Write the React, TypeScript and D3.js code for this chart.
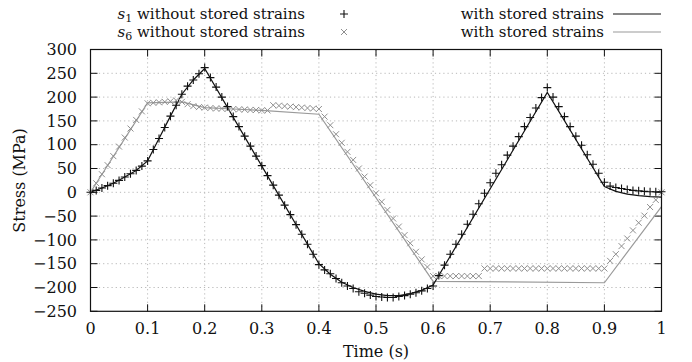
import React from "react";
import * as d3 from "d3";

const W = 692;
const H = 362;

// sample times of the markers (s)
const markerTimes = [
  0.0, 0.01, 0.02, 0.03, 0.04, 0.05, 0.06, 0.07, 0.08, 0.09,
  0.1, 0.11, 0.12, 0.13, 0.14, 0.15, 0.16, 0.17, 0.18, 0.19,
  0.2, 0.21, 0.22, 0.23, 0.24, 0.25, 0.26, 0.27, 0.28, 0.29,
  0.3, 0.31, 0.32, 0.33, 0.34, 0.35, 0.36, 0.37, 0.38, 0.39,
  0.4, 0.41, 0.42, 0.43, 0.44, 0.45, 0.46, 0.47, 0.48, 0.49,
  0.5, 0.51, 0.52, 0.53, 0.54, 0.55, 0.56, 0.57, 0.58, 0.59,
  0.6, 0.61, 0.62, 0.63, 0.64, 0.65, 0.66, 0.67, 0.68, 0.69,
  0.7, 0.71, 0.72, 0.73, 0.74, 0.75, 0.76, 0.77, 0.78, 0.79,
  0.8, 0.81, 0.82, 0.83, 0.84, 0.85, 0.86, 0.87, 0.88, 0.89,
  0.9, 0.91, 0.92, 0.93, 0.94, 0.95, 0.96, 0.97, 0.98, 0.99, 1.0,
];

// s1 without stored strains (+)
const s1Without = [
  0, 4, 9, 14, 19, 25, 32, 39, 46, 55,
  66, 90, 113, 136, 160, 183, 206, 223, 236, 249,
  262, 241, 221, 200, 180, 159, 138, 118, 97, 76,
  56, 35, 15, -6, -27, -47, -68, -88, -109, -130,
  -152, -163, -171, -181, -190, -197, -202, -209, -212, -216,
  -219, -220, -221, -221, -219, -217, -214, -211, -207, -202,
  -197, -175, -153, -130, -109, -88, -67, -46, -24, -2,
  20, 40, 58, 78, 97, 117, 138, 157, 177, 199,
  220, 200, 180, 159, 138, 118, 99, 79, 59, 40,
  21, 13, 10, 8, 6, 4, 3, 2, 1, 1, 1,
];

// s6 without stored strains (x)
const s6Without = [
  0, 19, 38, 57, 76, 96, 115, 134, 152, 170,
  187, 188, 189, 190, 191, 193, 190, 185, 181, 179,
  178, 177, 176, 176, 175, 175, 174, 174, 173, 173,
  172, 172, 183, 182, 181, 180, 179, 178, 177, 176,
  175, 159, 141, 122, 104, 85, 68, 50, 33, 15,
  -2, -20, -37, -55, -72, -90, -107, -125, -141, -157,
  -176, -176, -176, -176, -176, -176, -176, -176, -176, -160,
  -160, -160, -160, -160, -160, -160, -160, -160, -160, -160,
  -160, -160, -160, -160, -160, -160, -160, -160, -160, -160,
  -160, -144, -130, -113, -97, -80, -64, -49, -31, -16, 0,
];

// s1 with stored strains (black line)
const s1WithTimes = [
  0, 0.02, 0.04, 0.06, 0.08, 0.1, 0.12, 0.14, 0.16, 0.18, 0.2,
  0.4, 0.42, 0.44, 0.46, 0.48, 0.5, 0.52, 0.54, 0.56, 0.58, 0.6,
  0.8, 0.9, 0.92, 0.94, 0.96, 0.98, 1.0,
];
const s1With = [
  0, 9, 19, 32, 46, 66, 113, 160, 206, 236, 260,
  -150, -172, -189, -200, -208, -214, -217, -217, -213, -206, -195,
  210, 12, 2, -4, -7, -9, -10,
];

// s6 with stored strains (grey line)
const s6WithTimes = [0, 0.1, 0.13, 0.16, 0.2, 0.25, 0.3, 0.4, 0.6, 0.9, 1.0];
const s6With = [0, 188, 189, 190, 178, 175, 172, 164, -187, -190, -30];

const xTicks = [0, 0.1, 0.2, 0.3, 0.4, 0.5, 0.6, 0.7, 0.8, 0.9, 1];
const yTicks = [-250, -200, -150, -100, -50, 0, 50, 100, 150, 200, 250, 300];

const FONT = "'DejaVu Serif', serif";

export default function App() {
  const x = d3.scaleLinear().domain([0, 1]).range([90.5, 661.5]);
  const y = d3.scaleLinear().domain([-250, 300]).range([311.3, 49.5]);
  const [x0, x1] = x.range();
  const [y0, y1] = y.range();

  const line = d3
    .line<[number, number]>()
    .x((d) => x(d[0]))
    .y((d) => y(d[1]));

  const s1Line = line(s1WithTimes.map((t, i) => [t, s1With[i]]));
  const s6Line = line(s6WithTimes.map((t, i) => [t, s6With[i]]));

  const fmtY = (v: number) => (v < 0 ? "\u2212" + Math.abs(v) : String(v));
  const fmtX = (v: number) => String(v);

  const plus = (cx: number, cy: number, r: number, key: string, color: string) => (
    <path
      key={key}
      d={`M${cx - r},${cy}H${cx + r}M${cx},${cy - r}V${cy + r}`}
      stroke={color}
      strokeWidth={1.1}
      fill="none"
    />
  );
  const cross = (cx: number, cy: number, r: number, key: string, color: string) => (
    <path
      key={key}
      d={`M${cx - r},${cy - r}L${cx + r},${cy + r}M${cx - r},${cy + r}L${cx + r},${cy - r}`}
      stroke={color}
      strokeWidth={1}
      fill="none"
    />
  );

  const tickLen = 7;
  const black = "#111";
  const grey = "#8f8f8f";
  const ts = { fontFamily: FONT };
  const fs = 16;
  const lfs = 15;

  return (
    <svg
      width={W}
      height={H}
      style={{ position: "absolute", left: 0, top: 0, background: "#fff", fontFamily: FONT }}
    >
      <rect x={0} y={0} width={W} height={H} fill="#fff" />
      {/* grid */}
      <g stroke="#b8b8b8" strokeWidth={1} strokeDasharray="1.2,3">
        {xTicks.slice(1, -1).map((t) => (
          <line key={"gx" + t} x1={x(t)} x2={x(t)} y1={y0} y2={y1} />
        ))}
        {yTicks.slice(1, -1).map((v) => (
          <line key={"gy" + v} x1={x0} x2={x1} y1={y(v)} y2={y(v)} />
        ))}
      </g>
      {/* ticks */}
      <g stroke={black} strokeWidth={1}>
        {xTicks.map((t) => (
          <g key={"tx" + t}>
            <line x1={x(t)} x2={x(t)} y1={y0} y2={y0 - tickLen} />
            <line x1={x(t)} x2={x(t)} y1={y1} y2={y1 + tickLen} />
          </g>
        ))}
        {yTicks.map((v) => (
          <g key={"ty" + v}>
            <line x1={x0} x2={x0 + tickLen} y1={y(v)} y2={y(v)} />
            <line x1={x1} x2={x1 - tickLen} y1={y(v)} y2={y(v)} />
          </g>
        ))}
      </g>
      {/* lines */}
      <path d={s6Line ?? ""} fill="none" stroke="#9a9a9a" strokeWidth={1.2} />
      <path d={s1Line ?? ""} fill="none" stroke={black} strokeWidth={1.2} />
      {/* markers */}
      <g>
        {markerTimes.map((t, i) => cross(x(t), y(s6Without[i]), 3, "c" + i, grey))}
      </g>
      <g>
        {markerTimes.map((t, i) => plus(x(t), y(s1Without[i]), 4, "p" + i, black))}
      </g>
      {/* frame */}
      <rect
        x={x0}
        y={y1}
        width={x1 - x0}
        height={y0 - y1}
        fill="none"
        stroke={black}
        strokeWidth={1.2}
      />
      {/* tick labels */}
      <g fontSize={fs} fill={black}>
        {yTicks.map((v) => (
          <text key={"ly" + v} style={ts} x={77} y={y(v)} dy="0.35em" textAnchor="end">
            {fmtY(v)}
          </text>
        ))}
        {xTicks.map((t) => (
          <text key={"lx" + t} style={ts} x={x(t)} y={334} textAnchor="middle">
            {fmtX(t)}
          </text>
        ))}
      </g>
      {/* axis titles */}
      <text style={ts} x={376} y={357} textAnchor="middle" fontSize={fs} fill={black}>
        Time (s)
      </text>
      <text
        style={ts}
        transform={`translate(25,${(y0 + y1) / 2}) rotate(-90)`}
        textAnchor="middle"
        fontSize={fs}
        fill={black}
      >
        Stress (MPa)
      </text>
      {/* legend */}
      <g fontSize={lfs} fill={black}>
        <text style={ts} x={305} y={19} textAnchor="end">
          <tspan fontStyle="italic">s</tspan>
          <tspan fontSize={11} dy={3}>1</tspan>
          <tspan dy={-3}> without stored strains</tspan>
        </text>
        <text style={ts} x={305} y={37} textAnchor="end">
          <tspan fontStyle="italic">s</tspan>
          <tspan fontSize={11} dy={3}>6</tspan>
          <tspan dy={-3}> without stored strains</tspan>
        </text>
        <text style={ts} x={604} y={19} textAnchor="end">with stored strains</text>
        <text style={ts} x={604} y={37} textAnchor="end">with stored strains</text>
      </g>
      {plus(344, 14, 4, "lp", black)}
      {cross(344, 32, 3, "lc", grey)}
      <line x1={613} x2={661} y1={14} y2={14} stroke={black} strokeWidth={1.2} />
      <line x1={613} x2={661} y1={32} y2={32} stroke="#9a9a9a" strokeWidth={1.2} />
    </svg>
  );
}
